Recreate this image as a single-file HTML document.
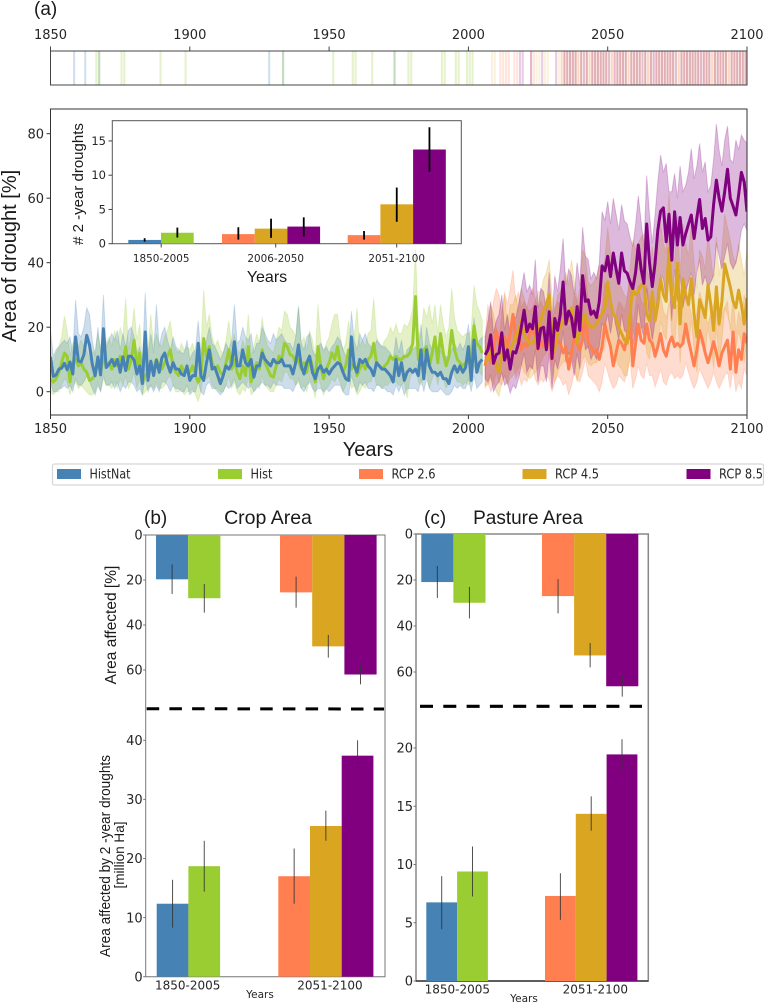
<!DOCTYPE html>
<html lang="en">
<head>
<meta charset="utf-8">
<title>Drought area projections</title>
<style>
html,body{margin:0;padding:0;background:#fff;}
svg{display:block;position:absolute;left:0;top:0;filter:blur(0.3px);}
.dv{font-family:"DejaVu Sans","Liberation Sans",sans-serif;fill:#262626;}
.ls{font-family:"Liberation Sans",sans-serif;fill:#1a1a1a;}
</style>
</head>
<body>
<svg id="fig" xmlns="http://www.w3.org/2000/svg" width="764" height="1003" viewBox="0 0 764 1003">
  <rect x="0" y="0" width="764" height="1003" fill="#fff"/>
  <defs>
    <clipPath id="mainClip"><rect x="50.5" y="109" width="696.5" height="306"/></clipPath>
  </defs>

  <text class="ls" x="34" y="15" font-size="19">(a)</text>
  <g id="strip"></g>
  <g id="main"></g>
  <text class="ls" transform="translate(16,256) rotate(-90)" text-anchor="middle" font-size="20">Area of drought [%]</text>
  <text class="ls" x="368" y="456" text-anchor="middle" font-size="20">Years</text>

  <g id="inset"></g>
  <text class="ls" transform="translate(83,184) rotate(-90)" text-anchor="middle" font-size="15"># 2 -year droughts</text>
  <text class="ls" x="267" y="282" text-anchor="middle" font-size="16">Years</text>

  <g id="legend"></g>

  <g id="panelB"></g>
  <text class="ls" x="144" y="524" font-size="19">(b)</text>
  <text class="ls" x="268" y="524" text-anchor="middle" font-size="19.5">Crop Area</text>
  <text class="ls" transform="translate(116,625) rotate(-90)" text-anchor="middle" font-size="15.5">Area affected [%]</text>
  <text class="ls" transform="translate(110,856) rotate(-90)" text-anchor="middle" font-size="14.5" textLength="202" lengthAdjust="spacingAndGlyphs">Area affected by 2 -year droughts</text>
  <text class="ls" transform="translate(124,855) rotate(-90)" text-anchor="middle" font-size="13.5" textLength="67" lengthAdjust="spacingAndGlyphs">[million Ha]</text>
  <text class="dv" x="260" y="998" text-anchor="middle" font-size="10.5">Years</text>

  <g id="panelC"></g>
  <text class="ls" x="424" y="524" font-size="19">(c)</text>
  <text class="ls" x="528" y="524" text-anchor="middle" font-size="19">Pasture Area</text>
  <text class="dv" x="524" y="1002" text-anchor="middle" font-size="10.5">Years</text>
</svg>

<script>
// ---------- time-series data (1850-2005 historical, 2006-2100 scenarios) ----------
const histStartYear = 1850;
const rcpStartYear = 2006;

const histNatMean = [
10.8,4.7,5.2,7,7.3,8.8,6.8,9.2,5.5,17,
9.5,9.2,11.5,17.5,14.5,8.5,5,10.8,5.2,19.5,
7.5,8.5,10,8,10,6,10.8,6.5,11,11,
9.8,5.5,8,2.5,18.5,3.5,9.5,5,9.8,6,
10.5,12,8.5,6,9,7,7,5.5,5,8,
3.5,5,5,15,5,3.5,9,13,7,7.5,
5,2.5,5,8,7,8.5,15.5,8,8,13,
9,8,10,4.5,8,8,12,10,9,8,
10,9,9,10,8,8,8,5.5,9,14.5,
8,5.5,9,11,6,4,7,8,6,7,
5.5,7,8,9,8.5,6,4,3.5,17,8,
6,10,9,10,8,7,5,9,8,7,
7,6,5,3,10,5,9,3.5,6,7,
6,7,5,13,4,13,8,6,6,5,
6,4,4,2.5,6,8,6,8,6,7.5,
14,3.5,16,6,9,10];
const histNatHigh = [
19,11,13,14,15,16,15,17,12,28.5,
18,17,20,26,24,16,11,20,12,30,
14,16,18,16,19,13,18,14,19,20,
17,12,14,9,30.7,11,18,12,27,14,
18,20,16,13,17,14,13,12,12,16,
10,12,13,22,12,10,16,20,15,14,
12,10,12,15,13,16,27,15,16,20,
17,16,18,12,15,15,20,18,16,15,
18,16,17,18,16,15,15,13,17,26.5,
15,13,17,18,13,11,14,15,13,14,
12,14,15,17,16,13,11,10,25,16,
13,18,16,18,15,14,12,16,15,14,
14,13,12,10,17,12,16,10,13,14,
13,14,12,21,11,20,15,13,13,12,
13,11,11,10,13,15,13,15,13,15,
21,11,23,14,16,17];
const histNatLow = [
3,0,0,1,1,2,1,2,0,4,
2,2,3,5,3,1,-1,2,0,5,
2,2,3,1,3,0,2,1,3,3,
2,0,1,-1,4,0,2,0,2,0,
3,3,2,0,2,1,1,0,0,2,
-1,0,0,3,0,-1,2,3,1,1,
0,-1,0,2,1,2,4,1,2,3,
2,1,2,0,1,2,3,2,2,1,
3,2,2,2,1,1,1,0,2,4,
1,0,2,3,1,0,1,1,0,1,
0,1,2,2,2,0,-1,-1,5,2,
0,3,2,3,1,1,0,2,2,1,
1,0,0,-1,2,0,2,-1,1,1,
1,1,0,4,0,4,1,0,0,0,
1,0,-1,-1,0,2,1,2,1,1,
4,0,5,1,2,3];

const histMean = [
4,3,4,6,9,12,11,3,9,10,
8,9,7,6,3.5,4,5,10,6,11,
8,9,7,10,8,11,9,14,7,10,
16,8,12,3,5,6,9,7,10,8,
7,9,11,13,8,6,5,8,6,7,
6,8,5,3,5,16.5,11,14,9,7,
8,6,5,9,13,7,10,6,4,8,
5,14,3,6,9,7,13,9,7,5,
4.5,8,11,10,15,14,11.5,11,9,10,
7,9,6,11,8,3,14,8,4,7,
9,12,10,14,9,6,8,13,7,9,
5,7,9,7,10,11,15,9,8,7,
8,9,11,10,11,10,10,11,11,12,
15,29.5,10,9,13,14,8,12,17,9,
18,12,8,11,19,13,10,9,8,9,
9,10,20.5,15,14,12];
const histHigh = [
11,9,12,14,17,23.5,19,11,15,16,
14,16,14,13,10,12,13,18,13,20,
15,17,14,19,15,20,17,29,13,18,
26,16,21,10,12,13,24,14,18,15,
14,17,19,22,15,13,12,15,13,14,
13,15,12,11,13,31.5,20,24,17,14,
16,13,12,16,22,14,18,13,12,16,
13,24,11,14,18,15,23,17,14,13,
12,16,20,19,25,24,20,19,17,26,
15,17,13,19,16,11,27,16,12,15,
17,21,24,24,17,13,15,22,14,17,
26,14,16,14,18,19,29,17,15,14,
16,17,20,18,21,18,18,21,20,22,
26,44,19,17,26,23,27,21,27,18,
27,21,17,20,32,23,19,18,17,18,
18,19,33,27,25,22];
const histLow = [
0,-1,0,0,2,4,3,-1,2,3,
1,2,1,0,-1,-1,0,3,0,4,
2,2,1,3,1,4,2,5,1,3,
6,1,4,-1,0,1,2,1,3,1,
1,2,4,5,2,0,0,1,-1,0,
0,1,-1,-3,0,6,4,5,2,1,
1,0,0,2,5,1,3,0,-1,1,
0,5,-1,0,2,1,5,2,1,0,
0,2,4,3,6,6,4,4,2,3,
1,2,0,4,2,-2,5,2,-1,1,
2,4,3,5,3,0,2,5,1,2,
-1,0,2,1,3,3,6,2,2,1,
2,2,3,3,3,2,2,3,-2,4,
6,9,3,2,5,6,1,4,6,2,
7,4,1,3,8,5,3,3,2,3,
2,3,8,6,6,5];

const rcp26Mean = [
8,14,9,13,19,15,12,17,14,18,
24,16,19,13,15,14,18,20,16,13,
16,14,17,15,10,14,16,15,12,14,
7,12,17,15,13,16,24,15,14,12,
13,10,14,21,17,14,8,12,16,15,
13,17,23,8,15,21,16,15,21,16,
15,11,14,18,13,11,15,17,14,15,
14,15,21,16,12,8,13,19,16,12,
9,12,15.5,12,8,12,14,16,7,18.5,
6,13,10,18,15];
const rcp26High = [
17,27,21,28,32,30,24,31,27,32,
37.7,28,31,26,28,26,30,32,29,26,
28,26,29,27,21,26,28,27,24,26,
19,24,30,28,26,28,37,28,26,24,
25,22,26,34,30,27,20,24,28,27,
25,29,35,20,27,33,28,27,33,28,
27,23,26,30,25,23,27,29,26,27,
26,27,33,28,24,20,25,31,28,24,
21,24,27,24,20,24,26,28,19,30,
18,25,22,30,27];
const rcp26Low = [
1,3,0,2,6,3,2,5,3,6,
9,4,6,2,4,3,6,8,4,2,
4,3,5,4,0,3,5,4,2,3,
-1,2,6,4,3,6,10,5,4,3,
2,0,3,9,6,3,1,2,5,4,
3,6,10,1,4,8,5,4,9,5,
5,1.5,4,7,3,2,5,6,4,5,
4,5,9,6,3,1,3,7,5,3,
1,3,6,3,1,3,5,6,1,7,
0,3,1,7,5];

const rcp45Mean = [
9,10,14,11,8,6,12,15,11,13,
15,17,19,22,18,16,15,15,17,19,
22,25,27,30,18,13,18,20,22,24,
22,26,20,15,19,22,24,21,20,20,
21,23,24,26,34,28,24,23,20,18,
16,15,24,32,30,31,33,33.6,24,22,
31,22,27,35,30,28,44.4,30,26,39.8,
21,35,30,27,35,24,17,28.5,26,23,
33,27,19,32.5,21,28,39.6,36,32.5,28,
26,31.5,27,21,29];
const rcp45High = [
17,20,27,24,20,16,24,30,21,27,
27,30,25,32,29,26,25,26,28,31,
31,35,37,41,30,24,30,31,34,37,
33,41,34,28,32,44,42,34,33,34,
36,39,38,41,51,43,38,38,34,32,
30,29,38,47,44,46,48,49,38,35,
45,36,42,52,46,43,61.5,46,40,55,
36,52,46,42,52,40,32,44,42,38,
49,42,34,48,36,44,55,51,47,42,
40,46,41,36,44];
const rcp45Low = [
2,2,4,3,0,-1.5,3,5,2,4,
5,6,7,9,6,5,4,5,6,7,
9,11,12,15,6,3,6,8,9,10,
9,12,8,3,7,10,11,9,8,9,
9,11,12,14,20,14,11,10,8,7,
5,5,11,19,17,18,20,20,12,10,
18,10,14,22,18,16,29,18,14,26,
9,22,17,14,22,13,6,16,14,12,
20,15,7,20,9,16,26,24,20,15,
13,19,15,9,16];

const rcp85Mean = [
11.4,13,17.6,8.8,11.5,12,18.3,9.8,13,7,
12.4,12,15,20,25.3,18.6,21,19.5,26.4,13.4,
19.6,20,13,24.8,10.3,22.7,19,24,34,21,
25,23,17,26.4,19,36,28,28.5,24,25,
23,28,39,37.5,42,35.7,43,38,33.6,43,
37.5,36.7,34,32,37,45.5,38,33.6,52,40,
32.6,40,50,56,57,46.5,55,40.8,55.8,45.5,
54,45.5,49,52,54.8,47.5,54,59.6,50.6,53.7,
47,48,58,65.6,60,56,62,69,60,57.5,
54.8,61,68,65,55.8];
const rcp85High = [
17,22,28,18,22,24,30,19,24,17,
23,23,27,32,37,31,33,30,41,26,
32,31,25,37,22,36,31,38,47.5,33,
38,36,30,40,33,51,42,41,35,37,
35,40,55.8,53,59,52,60,55,50,58,
53,52,48,45,52,60.7,53,45,67,55,
46,55,65,73.4,68,70.8,62,62,67.7,60,
70,62,64,68,75.4,66,70,77,68,71.3,
62,64,72,83,75,70,78,82.4,72,71,
78,75,79.6,78,77];
const rcp85Low = [
4,3,5,0,2,3,6,2,3,-0.5,
2,1,4,8,12,6,8,7,13,3,
8,8,3,12,1,10,7,11,19,9,
12,10,5,12,7,20,13,14,10,12,
10,14,21,20,24,18,24,20,16,24,
19,18,16,14,18,27,20,17,32,22,
16,22,31,36,35,28,35,22,38,28,
36,26,31,34,37,30,37,41,33,36,
32,34,36,46,42,38,42,46,40,38,
40,44,50,52,50];

// ---------- drought event years (top strip) ----------
const eventsHistNat = [1858,1862,1867,1928,1933,1973];
const eventsHist = [1866,1867,1875,1876,1889,1898,1933,1951,1958,1959,1965,1973,1978,1979,1990,1991,1995,1996,1999,2000,2001];
const eventsRcp26 = [2011,2012,2013,2014,2016,2017,2022,2023,2033,2034,2035,2036,2037,2038,2039,2040,2042,2043,2044,2045,2046,2047,2048,2049,2051,2052,2053,2054,2055,2056,2057,2058,2059,2060,2061,2063,2064,2065,2066,2067,2068,2069,2070,2071,2072,2073,2075,2076,2077,2078,2079,2080,2081,2082,2083,2084,2085,2086,2087,2088,2089,2090,2091,2092,2093,2094,2095,2096,2097,2098,2099];
const eventsRcp45 = [2008,2009,2024,2025,2027,2028,2032,2033,2034,2035,2036,2037,2038,2039,2040,2041,2042,2043,2044,2045,2046,2047,2048,2049,2050,2051,2053,2054,2055,2056,2057,2058,2059,2060,2061,2062,2063,2064,2065,2067,2068,2069,2070,2071,2072,2073,2074,2075,2076,2077,2078,2079,2080,2081,2082,2084,2085,2086,2087,2088,2089,2090,2091,2092,2093,2094,2095,2096,2097,2098,2099];
const eventsRcp85 = [2018,2019,2022,2026,2031,2034,2035,2036,2037,2038,2040,2041,2042,2044,2045,2046,2047,2048,2049,2050,2052,2053,2054,2055,2056,2058,2059,2060,2061,2062,2063,2065,2066,2067,2068,2069,2070,2071,2072,2073,2074,2076,2077,2078,2079,2080,2081,2082,2083,2084,2085,2086,2088,2089,2090,2091,2092,2094,2095,2096,2097,2098,2099];

// ---------- axis tick values ----------
const yearTicks = [1850,1900,1950,2000,2050,2100];
const mainYTicks = [0,20,40,60,80];
const insetYTicks = [0,5,10,15];
const insetCategories = ['1850-2005','2006-2050','2051-2100'];
const panelCategories = ['1850-2005','2051-2100'];
const legendLabels = ['HistNat','Hist','RCP 2.6','RCP 4.5','RCP 8.5'];

// ---------- inset bars ----------
const insetValues = [0.55,1.6,1.4,2.2,2.5,1.25,5.75,13.75];
const insetErrLow = [0.3,0.9,0.6,0.85,1.05,0.6,3.2,10.5];
const insetErrHigh = [0.8,2.35,2.4,3.65,3.85,1.85,8.2,17];
const insetSeries = [0,1,2,3,4,2,3,4];

// ---------- lower panel bars ----------
const panelSeries = [0,1,2,3,4];
const cropPctValues = [19.7,28.1,25.5,49.5,62];
const cropPctErrLow = [13,21.8,18.5,44.4,58];
const cropPctErrHigh = [26.2,34.5,32.3,54.5,66.4];
const cropPctTicks = [0,20,40,60];
const cropHaValues = [12.35,18.7,17,25.5,37.4];
const cropHaErrLow = [8.3,14.4,12.35,23,34.9];
const cropHaErrHigh = [16.4,23,21.7,28.1,40];
const cropHaTicks = [0,10,20,30,40];
const pasturePctValues = [20.9,29.9,27,52.8,66.2];
const pasturePctErrLow = [13.9,23,19.6,47.4,61.6];
const pasturePctErrHigh = [27.8,36.7,34.5,58,70.7];
const pasturePctTicks = [0,20,40,60];
const pastureHaValues = [6.75,9.4,7.3,14.35,19.45];
const pastureHaErrLow = [4.45,7.25,5.25,12.9,18.2];
const pastureHaErrHigh = [9,11.55,9.25,15.85,20.75];
const pastureHaTicks = [0,5,10,15,20];

const COLORS = ['#4682b4','#9acd32','#ff7f50','#daa520','#800080'];
const NS = 'http://www.w3.org/2000/svg';

// ---------- scales ----------
function xYear(y){ return 50.5 + (y - 1850) * 2.786; }
function yMain(v){ return 391.7 - v * 3.225; }
function yInset(v){ return 243.7 - v * 6.85; }

function mk(tag, attrs, parent){
  const el = document.createElementNS(NS, tag);
  for (const k in attrs) el.setAttribute(k, attrs[k]);
  parent.appendChild(el);
  return el;
}
function slug(s){ return s.toLowerCase().replace(/[^a-z0-9]+/g, '-'); }

// ---------- top strip ----------
const strip = document.getElementById('strip');
function drawEvents(list, color, name, alpha){
  list.forEach(function(y){
    const el = mk('rect', {x: xYear(y) + 0.3, y: 51, width: 2.1, height: 34, fill: color, 'fill-opacity': alpha}, strip);
    
    
  });
}
drawEvents(eventsHistNat, COLORS[0], 'histnat', 0.25);
drawEvents(eventsHist, COLORS[1], 'hist', 0.25);
drawEvents(eventsRcp26, COLORS[2], 'rcp26', 0.2);
drawEvents(eventsRcp45, COLORS[3], 'rcp45', 0.14);
drawEvents(eventsRcp85, COLORS[4], 'rcp85', 0.2);

const stripFrame = mk('path', {d: 'M50.5 51H747V85H50.5Z', fill: 'none', stroke: '#444', 'stroke-width': 1}, strip);


yearTicks.forEach(function(y){
  const t = mk('line', {x1: xYear(y), x2: xYear(y), y1: 46.5, y2: 51, stroke: '#444', 'stroke-width': 1}, strip);
  
  
  const l = mk('text', {x: xYear(y), y: 39, 'text-anchor': 'middle', 'font-size': 13, class: 'dv'}, strip);
  l.textContent = y;
  
  
});

// ---------- main chart ----------
const main = document.getElementById('main');
const plot = mk('g', {'clip-path': 'url(#mainClip)'}, main);



function drawBand(start, high, low, color, name){
  let d = '';
  high.forEach(function(v, i){ d += (i ? 'L' : 'M') + xYear(start + i).toFixed(1) + ' ' + yMain(v).toFixed(1); });
  for (let i = low.length - 1; i >= 0; i--) d += 'L' + xYear(start + i).toFixed(1) + ' ' + yMain(low[i]).toFixed(1);
  const el = mk('path', {d: d + 'Z', fill: color, 'fill-opacity': 0.27, stroke: color, 'stroke-opacity': 0.22, 'stroke-width': 1}, plot);
  
  
}
function drawLine(start, mean, color, name){
  let d = '';
  mean.forEach(function(v, i){ d += (i ? 'L' : 'M') + xYear(start + i).toFixed(1) + ' ' + yMain(v).toFixed(1); });
  const el = mk('path', {d: d, fill: 'none', stroke: color, 'stroke-width': 3, 'stroke-linejoin': 'round'}, plot);
  
  
}
drawBand(histStartYear, histHigh, histLow, COLORS[1], 'hist');
drawBand(histStartYear, histNatHigh, histNatLow, COLORS[0], 'histnat');
drawBand(rcpStartYear, rcp26High, rcp26Low, COLORS[2], 'rcp26');
drawBand(rcpStartYear, rcp45High, rcp45Low, COLORS[3], 'rcp45');
drawBand(rcpStartYear, rcp85High, rcp85Low, COLORS[4], 'rcp85');
drawLine(histStartYear, histMean, COLORS[1], 'hist');
drawLine(histStartYear, histNatMean, COLORS[0], 'histnat');
drawLine(rcpStartYear, rcp26Mean, COLORS[2], 'rcp26');
drawLine(rcpStartYear, rcp45Mean, COLORS[3], 'rcp45');
drawLine(rcpStartYear, rcp85Mean, COLORS[4], 'rcp85');

const mainFrame = mk('path', {d: 'M50.5 109H747V415H50.5Z', fill: 'none', stroke: '#333', 'stroke-width': 1}, main);


yearTicks.forEach(function(y){
  const t = mk('line', {x1: xYear(y), x2: xYear(y), y1: 415, y2: 419, stroke: '#333', 'stroke-width': 1}, main);
  
  
  const l = mk('text', {x: xYear(y), y: 433, 'text-anchor': 'middle', 'font-size': 13, class: 'dv'}, main);
  l.textContent = y;
  
  
});
mainYTicks.forEach(function(v){
  const t = mk('line', {x1: 46.5, x2: 50.5, y1: yMain(v), y2: yMain(v), stroke: '#333', 'stroke-width': 1}, main);
  
  
  const l = mk('text', {x: 44, y: yMain(v) + 4.7, 'text-anchor': 'end', 'font-size': 13, class: 'dv'}, main);
  l.textContent = v;
  
  
});

// ---------- inset ----------
const inset = document.getElementById('inset');
const insetBg = mk('rect', {x: 112.3, y: 120.7, width: 349, height: 123, fill: '#fff', stroke: '#555', 'stroke-width': 1}, inset);


function xInset(i){
  const w = 32.7;
  if (i < 2) return 128.3 + i * w;
  if (i < 5) return 222 + (i - 2) * w;
  return 347.7 + (i - 5) * w;
}
insetValues.forEach(function(v, i){
  const b = mk('rect', {x: xInset(i), y: yInset(v), width: 32.7, height: yInset(0) - yInset(v), fill: COLORS[insetSeries[i]]}, inset);
  
  
});
insetValues.forEach(function(v, i){
  const cx = xInset(i) + 16.35;
  const e = mk('line', {x1: cx, x2: cx, y1: yInset(insetErrHigh[i]), y2: yInset(insetErrLow[i]), stroke: '#000', 'stroke-width': 1.8}, inset);
  
  
});
insetYTicks.forEach(function(v){
  const t = mk('line', {x1: 108.5, x2: 112.3, y1: yInset(v), y2: yInset(v), stroke: '#444', 'stroke-width': 1}, inset);
  
  
  const l = mk('text', {x: 106, y: yInset(v) + 4, 'text-anchor': 'end', 'font-size': 11.5, class: 'dv'}, inset);
  l.textContent = v;
  
  
});
function xInsetCat(i){ return i === 1 ? 275.7 : 161.2 + i * 117.75; }
insetCategories.forEach(function(c, i){
  const t = mk('line', {x1: xInsetCat(i), x2: xInsetCat(i), y1: 243.7, y2: 247.5, stroke: '#444', 'stroke-width': 1}, inset);
  
  
  const l = mk('text', {x: xInsetCat(i), y: 262, 'text-anchor': 'middle', 'font-size': 10.4, class: 'dv'}, inset);
  l.textContent = c;
  
  
});

// ---------- legend ----------
const legend = document.getElementById('legend');
const legendBox = mk('rect', {x: 52.5, y: 464, width: 711, height: 21, rx: 2, fill: '#fff', stroke: '#d6d6d6', 'stroke-width': 1.2}, legend);


function legendX(i){ return 57 + [0, 161, 302, 465.5, 629.5][i]; }
function legendTextW(s){ return s.length > 5 && s[0] === 'R' ? 44 : (s === 'Hist' ? 22 : 41); }
legendLabels.forEach(function(label, i){
  const sw = mk('rect', {x: legendX(i), y: 469, width: 24, height: 10, fill: COLORS[i]}, legend);
  
  
  const t = mk('text', {x: legendX(i) + 32.5, y: 478.5, 'font-size': 13, class: 'dv', textLength: legendTextW(label), lengthAdjust: 'spacingAndGlyphs'}, legend);
  t.textContent = label;
  
  
});

// ---------- lower bar panels ----------
function drawPanelAxis(g, p){
  const frame = mk('path', {d: 'M' + p.left + ' ' + p.top + 'H' + p.right + 'V' + p.bottom + 'H' + p.left + 'Z', fill: 'none', stroke: p.frame, 'stroke-width': p.frameW}, g);
  
  
}
function drawBars(g, values, errLow, errHigh, ticks, yFn, p, name){
  function xb(i){ return i < 2 ? p.g1 + i * p.w : p.g2 + (i - 2) * p.w; }
  values.forEach(function(v, i){
    const y0 = yFn(0), y1 = yFn(v);
    const b = mk('rect', {x: xb(i), y: Math.min(y0, y1), width: p.w, height: Math.abs(y1 - y0), fill: COLORS[panelSeries[i]]}, g);
    
    
  });
  values.forEach(function(v, i){
    const cx = xb(i) + p.w / 2;
    const e = mk('line', {x1: cx, x2: cx, y1: yFn(errLow[i]), y2: yFn(errHigh[i]), stroke: '#333', 'stroke-width': 1, 'stroke-opacity': 0.85}, g);
    
    
  });
  ticks.forEach(function(v){
    const t = mk('line', {x1: p.left - 2.5, x2: p.left, y1: yFn(v), y2: yFn(v), stroke: '#777', 'stroke-width': 1}, g);
    
    
    const l = mk('text', {x: p.left - p.labelGap, y: yFn(v) + 4.7, 'text-anchor': 'end', 'font-size': 13, class: 'dv'}, g);
    l.textContent = v;
    
    
  });
}
function drawCategoryLabels(g, xFn, y, name){
  panelCategories.forEach(function(c, i){
    const l = mk('text', {x: xFn(i), y: y, 'text-anchor': 'middle', 'font-size': 12, class: 'dv'}, g);
    l.textContent = c;
    
    
  });
}

const panelB = document.getElementById('panelB');
const pB = {left: 145.7, right: 385, top: 535, bottom: 976.7, frame: '#777', frameW: 1, name: 'crop', labelGap: 3};
drawPanelAxis(panelB, pB);
function yCropPct(v){ return 535 + v * 2.25; }
function yCropHa(v){ return 976.7 - v * 5.91; }
drawBars(panelB, cropPctValues, cropPctErrLow, cropPctErrHigh, cropPctTicks, yCropPct,
  {left: 145.7, g1: 156, g2: 280, w: 32.2, labelGap: 3}, 'crop-percent');
drawBars(panelB, cropHaValues, cropHaErrLow, cropHaErrHigh, cropHaTicks, yCropHa,
  {left: 145.7, g1: 156.7, g2: 278.3, w: 31.7, labelGap: 3}, 'crop-hectares');
const dashB = mk('line', {x1: 146.7, x2: 384, y1: 708.7, y2: 709, stroke: '#000', 'stroke-width': 3, 'stroke-dasharray': '12.5 10.2'}, panelB);


function xCropCat(i){ return 187.7 + i * 142.3; }
drawCategoryLabels(panelB, xCropCat, 989.5, 'crop');

const panelC = document.getElementById('panelC');
const pC = {left: 416, right: 648.3, top: 534, bottom: 981, frame: '#888', frameW: 1.5, name: 'pasture', labelGap: 3};
drawPanelAxis(panelC, pC);
const cBase = mk('line', {x1: 416, x2: 648.3, y1: 981, y2: 981, stroke: '#222', 'stroke-width': 1.2}, panelC);


function yPasturePct(v){ return 534 + v * 2.3; }
function yPastureHa(v){ return 981 - v * 11.65; }
drawBars(panelC, pasturePctValues, pasturePctErrLow, pasturePctErrHigh, pasturePctTicks, yPasturePct,
  {left: 416, g1: 421.3, g2: 542, w: 32.1, labelGap: 3}, 'pasture-percent');
drawBars(panelC, pastureHaValues, pastureHaErrLow, pastureHaErrHigh, pastureHaTicks, yPastureHa,
  {left: 416, g1: 426.3, g2: 545, w: 30.8, labelGap: 3}, 'pasture-hectares');
const dashC = mk('line', {x1: 420, x2: 642, y1: 706.3, y2: 706.3, stroke: '#000', 'stroke-width': 3.2, 'stroke-dasharray': '13 10.3'}, panelC);


function xPastureCat(i){ return 457.3 + i * 138; }
drawCategoryLabels(panelC, xPastureCat, 993.5, 'pasture');
</script>
</body>
</html>
